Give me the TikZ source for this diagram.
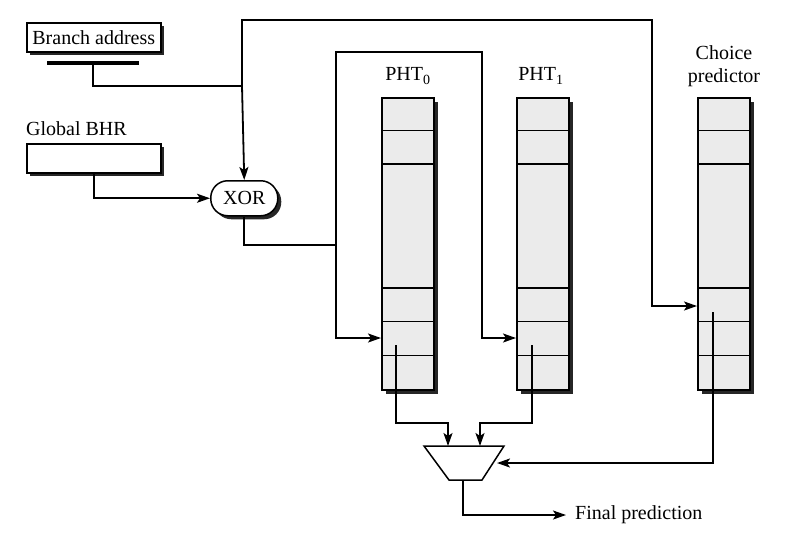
\documentclass[tikz,border=0pt]{standalone}
\usepackage{fontspec}
\setmainfont{Liberation Serif}
\usetikzlibrary{arrows.meta,shadows,calc}
\begin{document}
\begin{tikzpicture}[x=1pt,y=-1pt,
  font=\fontsize{20}{23}\selectfont,
  line/.style={line width=1.8pt},
  arr/.style={line, -{Stealth[length=13pt,width=9pt,inset=3pt]}},
  sh/.style={general shadow={fill=black!85, shadow xshift=3.5pt, shadow yshift=-3.5pt}},
  box/.style={draw, line width=1.5pt, fill=white, sh, minimum width=134pt, minimum height=29pt, inner sep=0pt, anchor=north west},
  col/.style={draw, line width=1.5pt, fill=gray!16, general shadow={fill=black!85, shadow xshift=4.5pt, shadow yshift=-4.5pt}, minimum width=52pt, minimum height=292pt, inner sep=0pt, anchor=north west},
  lbl/.style={inner sep=0pt}
]
\useasboundingbox (0,0) rectangle (799,536);

% input boxes
\node[box] (ba) at (26,22) {Branch address};
\node[fill=black, minimum width=92pt, minimum height=4pt, inner sep=0pt, anchor=north west] (bar) at (47,61) {};
\node[lbl, anchor=base west] (gl) at (26,135) {Global BHR};
\node[box] (bhr) at (26,143) {};
\node[draw, line width=1.5pt, fill=white, rounded corners=17pt, minimum width=67pt, minimum height=35pt, inner sep=0pt, sh, anchor=north west] (xor) at (210,180) {XOR};

% tables
\node[col] (p0) at (381,97) {};
\node[col] (p1) at (516,97) {};
\node[col] (ch) at (697,97) {};
\foreach \n in {p0,p1,ch}
  \foreach \yy in {33.5,67,191,224.5,258.5}
    \draw[line width=1.5pt] ($(\n.north west)+(0,\yy)$) -- ($(\n.north east)+(0,\yy)$);

\node[lbl] (l0) at (408,76) {PHT\textsubscript{0}};
\node[lbl] (l1) at (541,76) {PHT\textsubscript{1}};
\node[lbl, align=center] (cl) at (724,66) {Choice\\predictor};

% multiplexer
\coordinate (m1) at (424,446);
\coordinate (m2) at (504,446);
\coordinate (m3) at (482,480);
\coordinate (m4) at (449,480);
\fill[black!85, shift={(3.5,3.5)}] (m1) -- (m2) -- (m3) -- (m4) -- cycle;
\draw[line width=1.5pt, fill=white] (m1) -- (m2) -- (m3) -- (m4) -- cycle;
\coordinate (mA) at (448,446);
\coordinate (mB) at (480,446);
\coordinate (mR) at (497,463);
\coordinate (mO) at (463,480);

% junctions and bends
\coordinate (j1) at (242,86);
\coordinate (t1) at (652,20);
\coordinate (chin) at (697,306);
\coordinate (j2) at (336,245);
\coordinate (t2) at (482,52);
\coordinate (p0in) at (381,338);
\coordinate (p1in) at (516,338);
\coordinate (r0) at (396,345);
\coordinate (k0) at (448,423);
\coordinate (r1) at (532,345);
\coordinate (k1) at (480,423);
\coordinate (rc) at (713,312);

% connectors
\draw[line] (bar.south) |- (j1);
\draw[arr] (j1) -- (xor.north);
\draw[arr] (j1) |- (t1) |- (chin);
\draw[arr] (bhr.south) |- (xor.west);
\draw[line] (xor.south) |- (j2);
\draw[arr] (j2) |- (p0in);
\draw[arr] (j2) |- (t2) |- (p1in);
\draw[arr] (r0) |- (k0) -- (mA);
\draw[arr] (r1) |- (k1) -- (mB);
\draw[arr] (rc) |- (mR);

\node[lbl, anchor=west] (fp) at (575,515) {Final prediction};
\draw[arr] (mO) |- ([xshift=-9pt]fp.west);
\end{tikzpicture}
\end{document}
